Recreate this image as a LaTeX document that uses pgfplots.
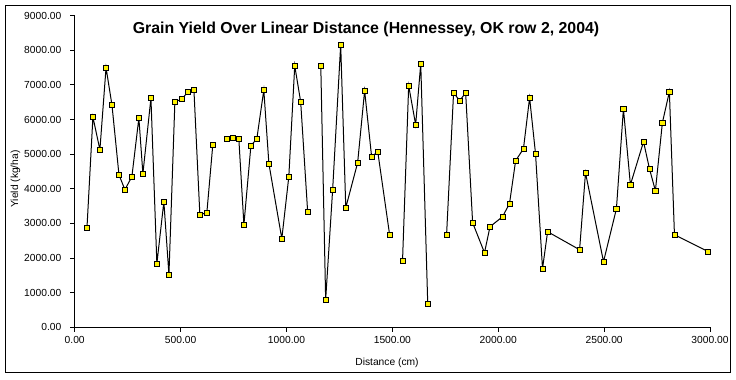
\documentclass[border=0pt]{standalone}
\usepackage{pgfplots}
\pgfplotsset{compat=1.18}
\usepackage{pgfplotstable}
\usepackage{fontspec}
\setmainfont{Liberation Sans}
\pgfplotstableread{
x y
58 2877
86 6073
119 5130
148 7498
176 6420
209 4407
237 3975
270 4350
303 6045
322 4437
360 6622
388 1837
421 3628
445 1520
473 6507
506 6594
534 6796
563 6853
591 3252
624 3310
652 5265
685 nan
718 5447
747 5476
775 5447
799 2963
832 5245
860 5447
893 6853
917 4725
978 2559
1011 4350
1039 7555
1067 6516
1100 3339
1130 nan
1162 7555
1185 797
1218 3975
1256 8162
1280 3454
1336 4754
1369 6833
1402 4927
1431 5071
1487 2674
1520 nan
1548 1923
1577 6978
1610 5851
1634 7613
1667 682
1710 nan
1756 2674
1789 6776
1818 6544
1846 6776
1879 3021
1935 2154
1961 2905
2020 3194
2053 3570
2082 4811
2119 5158
2148 6631
2176 5014
2209 1692
2233 2761
2384 2241
2412 4465
2497 1895
2558 3425
2591 6313
2624 4118
2686 5360
2714 4580
2742 3945
2775 5909
2808 6804
2832 2674
2992 2183
}\datatable
\begin{document}
\begin{tikzpicture}
\useasboundingbox (0,0) rectangle (552pt,284.25pt);
\draw[black, line width=0.75pt] (4.125pt,4.875pt) rectangle (547.875pt,280.125pt);
\begin{axis}[
  at={(56.025pt,38.775pt)}, anchor=south west,
  scale only axis, width=476.5pt, height=233.7pt,
  xmin=0, xmax=3000, ymin=0, ymax=9000,
  axis x line*=bottom, axis y line*=left,
  axis line style={line width=0.75pt, -},
  tick align=outside, major tick length=3.5pt,
  tick style={black, line width=0.75pt},
  xtick={0,500,...,3000}, ytick={0,1000,...,9000},
  scaled ticks=false,
  /pgf/number format/assume math mode=true,
  /pgf/number format/fixed,
  /pgf/number format/fixed zerofill,
  /pgf/number format/precision=2,
  /pgf/number format/1000 sep={},
  ticklabel style={font=\fontsize{7.7}{9}\selectfont},
  yticklabel style={xshift=-3pt},
  unbounded coords=jump,
  clip=false,
]
\addplot[black, line width=0.75pt, mark=square*, mark size=1.9pt,
  mark options={fill=yellow, draw=black, line width=0.6pt, solid}] table[x=x,y=y] {\datatable};
\end{axis}
\node[anchor=base, font=\fontsize{11.9}{14}\selectfont\bfseries] at (274.5pt,259.1pt) {Grain Yield Over Linear Distance (Hennessey, OK row 2, 2004)};
\node[rotate=90, font=\fontsize{7.7}{9}\selectfont] at (11.6pt,150pt) {Yield (kg/ha)};
\node[font=\fontsize{7.7}{9}\selectfont] at (290.25pt,12pt) {Distance (cm)};
\end{tikzpicture}
\end{document}
